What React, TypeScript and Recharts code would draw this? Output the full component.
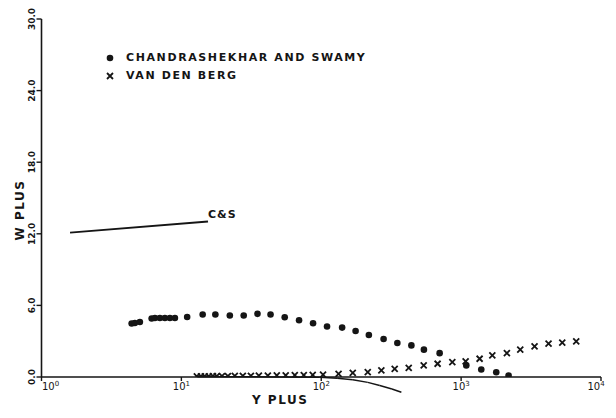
import React from 'react';
import { ComposedChart, Scatter, Line, XAxis, YAxis, ReferenceLine } from 'recharts';

// Chandrashekhar and Swamy (dots)
const csX = [4.41, 4.65, 5.05, 6.13, 6.47, 7.02, 7.62, 8.28, 8.99, 11.0, 14.2, 17.5, 22.2, 27.9, 35.0, 43.4, 54.8, 69.4, 87.4, 110, 141, 176, 219, 279, 350, 441, 542, 702, 1089, 1393, 1783, 2184];
const csY = [4.48, 4.53, 4.61, 4.90, 4.95, 4.95, 4.95, 4.95, 4.95, 5.03, 5.24, 5.24, 5.15, 5.15, 5.29, 5.24, 5.01, 4.76, 4.50, 4.23, 4.14, 3.86, 3.52, 3.18, 2.85, 2.65, 2.29, 2.00, 0.97, 0.63, 0.40, 0.13];

// Van den Berg (crosses)
const vdbX = [12.9, 13.8, 14.7, 15.7, 16.8, 17.9, 19.5, 21.5, 24.1, 27.5, 31.4, 35.8, 41.5, 48.1, 55.7, 64.7, 75.0, 86.9, 103, 133, 168, 215, 269, 335, 422, 540, 679, 865, 1077, 1356, 1671, 2124, 2647, 3350, 4217, 5285, 6650];
const vdbY = [0.05, 0.05, 0.06, 0.06, 0.07, 0.07, 0.08, 0.08, 0.09, 0.1, 0.1, 0.11, 0.12, 0.13, 0.14, 0.15, 0.16, 0.17, 0.19, 0.27, 0.35, 0.40, 0.55, 0.69, 0.77, 0.97, 1.11, 1.25, 1.30, 1.53, 1.81, 2.00, 2.29, 2.57, 2.79, 2.88, 2.99];

// C&S line
const lineX = [1.6, 15.5];
const lineY = [12.1, 13.03];

// lower curve (dips below zero)
const curveX = [13, 50, 97.5, 130, 168, 215, 262, 320, 374];
const curveY = [0.03, 0.01, -0.02, -0.1, -0.24, -0.45, -0.72, -1.0, -1.28];

const xTicks = [1, 10, 100, 1000, 10000];
const yTicks = [0, 6, 12, 18, 24, 30];

const INK = '#151515';
const FONT = '"DejaVu Sans", sans-serif';

const zip = (xs: number[], ys: number[]) => xs.map((x, i) => ({ x, y: ys[i] }));
const csData = zip(csX, csY);
const vdbData = zip(vdbX, vdbY);
const lineData = zip(lineX, lineY);
const curveData = zip(curveX, curveY);

const Dot = (p: any) => <circle cx={p.cx} cy={p.cy} r={3.3} fill={INK} />;
const Cross = (p: any) => (
  <path
    d={`M${p.cx - 3},${p.cy - 3}L${p.cx + 3},${p.cy + 3}M${p.cx - 3},${p.cy + 3}L${p.cx + 3},${p.cy - 3}`}
    stroke={INK}
    strokeWidth={1.8}
  />
);

const XTick = ({ x, y, payload, index }: any) => {
  const exp = Math.round(Math.log10(payload.value));
  return (
    <text x={x + (index === 0 ? 9 : 0)} y={y + 9} textAnchor="middle" fontSize={10} fill={INK} fontFamily={FONT}>
      10<tspan dy={-4} fontSize={7}>{exp}</tspan>
    </text>
  );
};

const YTick = ({ x, y, payload }: any) => (
  <text transform={`translate(${x - 1.5},${y}) rotate(-90)`} textAnchor="middle" fontSize={9} fill={INK} fontFamily={FONT} fontWeight="bold">
    {payload.value.toFixed(1)}
  </text>
);

export default function App() {
  return (
    <div style={{ position: 'absolute', left: 0, top: 0, width: 616, height: 418, background: '#fff', fontFamily: FONT, color: INK }}>
      <ComposedChart width={616} height={418} margin={{ top: 19, right: 15, bottom: 11, left: 0 }}>
        <XAxis
          dataKey="x"
          type="number"
          scale="log"
          domain={[1, 10000]}
          ticks={xTicks}
          allowDataOverflow
          height={30}
          tickSize={4}
          tickMargin={0}
          tick={<XTick />}
          axisLine={{ stroke: INK, strokeWidth: 1.6 }}
          tickLine={{ stroke: INK, strokeWidth: 1.4 }}
        />
        <YAxis
          type="number"
          domain={[0, 30]}
          ticks={yTicks}
          allowDataOverflow
          width={41.5}
          tickSize={5}
          tickMargin={0}
          tick={<YTick />}
          axisLine={{ stroke: INK, strokeWidth: 1.6 }}
          tickLine={{ stroke: INK, strokeWidth: 1.4 }}
        />
        {curveData.slice(1).map((p, i) => (
          <ReferenceLine
            key={i}
            segment={[curveData[i], p]}
            ifOverflow="visible"
            stroke={INK}
            strokeWidth={1.5}
          />
        ))}
        <Line data={lineData} dataKey="y" stroke={INK} strokeWidth={1.8} dot={false} isAnimationActive={false} />
        <Scatter data={csData} dataKey="y" shape={Dot} isAnimationActive={false} />
        <Scatter data={vdbData} dataKey="y" shape={Cross} isAnimationActive={false} />
      </ComposedChart>

      {/* legend */}
      <svg style={{ position: 'absolute', left: 0, top: 0 }} width={616} height={418} pointerEvents="none">
        <circle cx={110} cy={58} r={3.3} fill={INK} />
        <path d="M107,73L113,79M107,79L113,73" stroke={INK} strokeWidth={1.8} />
      </svg>
      <div style={{ position: 'absolute', left: 126, top: 51, fontSize: 11, letterSpacing: 1.6, fontWeight: 'bold', whiteSpace: 'nowrap' }}>
        CHANDRASHEKHAR AND SWAMY
      </div>
      <div style={{ position: 'absolute', left: 126, top: 69, fontSize: 11, letterSpacing: 1.6, fontWeight: 'bold', whiteSpace: 'nowrap' }}>
        VAN DEN BERG
      </div>
      <div style={{ position: 'absolute', left: 208, top: 208, fontSize: 11, letterSpacing: 1, fontWeight: 'bold' }}>C&amp;S</div>
      <div style={{ position: 'absolute', left: 252, top: 393, fontSize: 12, letterSpacing: 1.5, fontWeight: 'bold' }}>Y PLUS</div>
      <div
        style={{
          position: 'absolute',
          left: 20,
          top: 210,
          fontSize: 12,
          letterSpacing: 1.5,
          fontWeight: 'bold',
          whiteSpace: 'nowrap',
          transform: 'translate(-50%, -50%) rotate(-90deg)',
        }}
      >
        W PLUS
      </div>
    </div>
  );
}
